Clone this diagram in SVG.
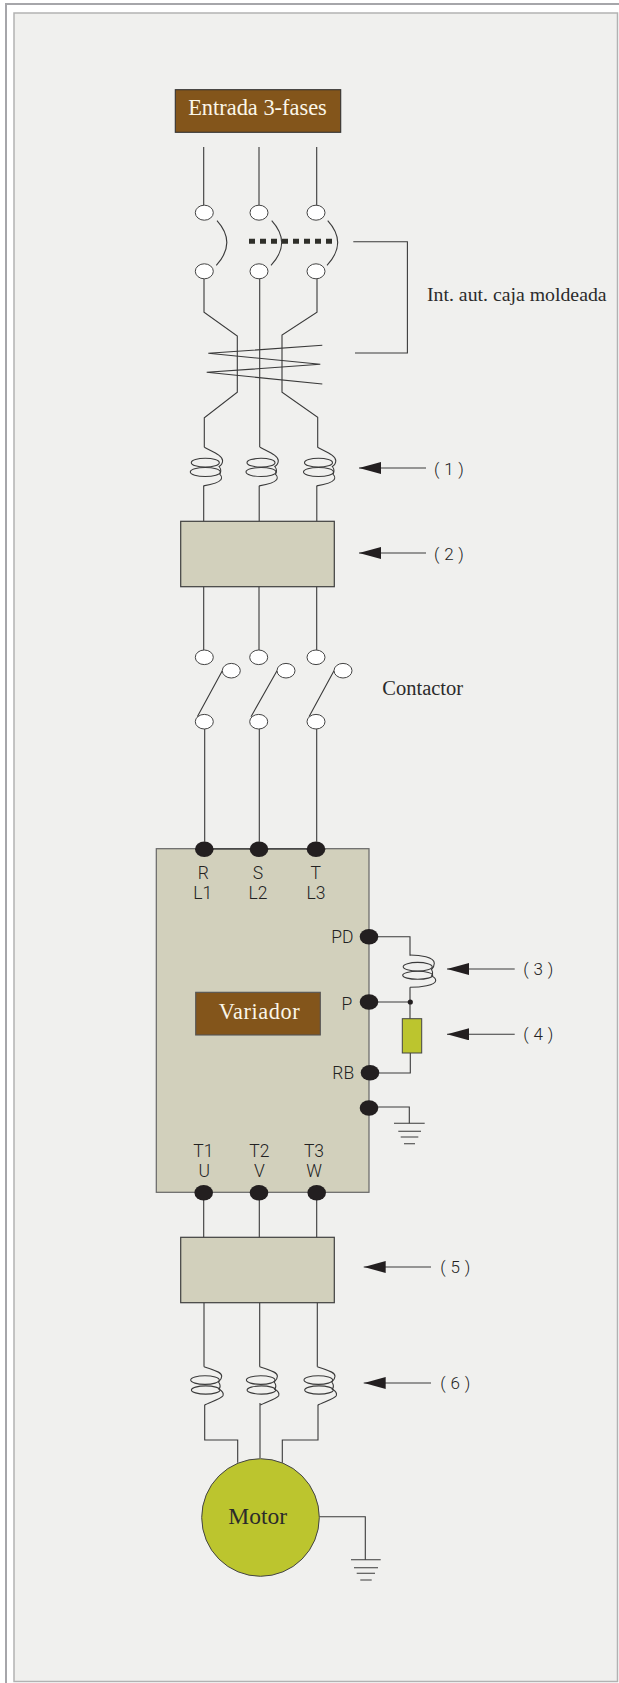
<svg xmlns="http://www.w3.org/2000/svg" xmlns:xlink="http://www.w3.org/1999/xlink" width="619" height="1683" viewBox="0 0 619 1683">
<style>
.w{fill:none;stroke:#3a3a3a;stroke-width:1.1}
.c{fill:#fff;stroke:#444;stroke-width:1}
.d{fill:#231f20;stroke:none}
.box{fill:#d2d0bc;stroke:#3f3f3f;stroke-width:1.2}
.brown{fill:#83551b;stroke:#333;stroke-width:1.1}
.olive{fill:#bcc52e;stroke:#444;stroke-width:1}
.s{font-family:"Liberation Serif",serif;fill:#2b2b2b}
.n{font-family:Roboto,"Liberation Sans",sans-serif;font-size:17.5px;font-weight:300;fill:#222;text-anchor:middle}
.a{font-family:Roboto,"Liberation Sans",sans-serif;font-size:17px;font-weight:300;fill:#222;letter-spacing:.3px}
</style>
<defs>
<marker id="ah" markerUnits="userSpaceOnUse" markerWidth="22" markerHeight="12" viewBox="0 -6 22 12" refX="22" refY="0" orient="auto"><path d="M0,-6L22,0L0,6Z" fill="#231f20"/></marker>
<g id="coilA" class="w">
<path class="w" d="M0,0C8,4.5 18.3,8 18.3,13.5C18.3,16 16.8,18 14.8,19.2C16.8,21.5 16.8,24.5 15.6,27C17.4,28.5 17.6,31 16.5,32.5C14.5,35.5 6,37.5 -0.8,38.6"/>
<ellipse class="w" cx="1" cy="15.4" rx="14" ry="4.4"/>
<ellipse class="w" cx="1" cy="24.7" rx="15" ry="4.5"/>
</g>
<g id="coilB" class="w">
<path class="w" d="M0,0C8,3 17.7,5 17.7,9.5C17.7,12 16,14 14.5,15.3C16.5,18 16.5,20.5 15,22.5C18,24 19.8,26.5 19,29C17,32 6,35.5 0.5,38.4"/>
<ellipse class="w" cx="1" cy="13.4" rx="14.3" ry="4.3"/>
<ellipse class="w" cx="1.7" cy="23.3" rx="14.3" ry="4.1"/>
</g>
</defs>
<rect id="page" x="0" y="0" width="619" height="1683" fill="#fff"/>
<path d="M619,4H6V1683" fill="none" stroke="#a6a6aa" stroke-width="2"/>
<rect id="panel" x="14" y="13" width="603.5" height="1668.5" fill="#f0f0ee" stroke="#b2b2b2" stroke-width="1.5"/>

<g id="connectors">
<path class="w" d="M203.7,147V205M259,147V205M316.7,147V205"/>
<path class="w" d="M217,220.7Q237,243 216.3,265.3M271.7,220.7Q292,243 271,265.3M327.7,220.7Q348,243 327,265.3"/>
<path d="M249,241.3H332" fill="none" stroke="#2f2f2a" stroke-width="5" stroke-dasharray="6 5"/>
<path class="w" d="M204,279V312.3L237.3,336V392.3L204.3,417.7V447.3"/>
<path class="w" d="M259.7,279V447.3"/>
<path class="w" d="M317,279V312.3L282,335V392.3L317.7,417.3V447.3"/>
<path class="w" d="M353.3,241.7H407.4V353H355"/>
<path class="w" d="M322.3,345.3L208.3,353.3L320.3,364.3L206.7,372.3L322.3,384"/>
<use xlink:href="#coilA" href="#coilA" x="204.3" y="447.3"/>
<use xlink:href="#coilA" href="#coilA" x="260" y="447.3"/>
<use xlink:href="#coilA" href="#coilA" x="317.5" y="447.3"/>
<path class="w" d="M203.7,485.7V521.3M259.2,485.7V521.3M316.8,485.7V521.3"/>
<path class="w" d="M203.7,586.7V650M259,586.7V650M316.7,586.7V650"/>
<path class="w" d="M197.3,716.7L222.3,670.7M251,716.7L277,670.7M309,716.7L334,670.7"/>
<path class="w" d="M204.7,729V841.7M259.3,729V841.7M316.7,729V841.7"/>
<path class="w" d="M369,936.7H410V955.7"/>
<path class="w" d="M410,987.3V1018.7M369,1002H410.3"/>
<path class="w" d="M410.3,1053V1073H370"/>
<path class="w" d="M369,1107H409.3V1123.3"/>
<path class="w" d="M394,1123.3H424.7M398.3,1131.3H421M400.7,1137H418.3M404,1143.7H415"/>
<path class="w" d="M203.7,1192V1237.3M259.3,1192V1237.3M316.7,1192V1237.3"/>
<path class="w" d="M204,1302.7V1366.7M259.7,1302.7V1366.7M317.3,1302.7V1366.7"/>
<use xlink:href="#coilB" href="#coilB" x="204" y="1366.7"/>
<use xlink:href="#coilB" href="#coilB" x="259.7" y="1366.7"/>
<use xlink:href="#coilB" href="#coilB" x="317.3" y="1366.7"/>
<path class="w" d="M204.7,1405V1440H237.7V1462.7"/>
<path class="w" d="M260,1403V1458"/>
<path class="w" d="M318,1405V1440H282.3V1462.7"/>
<path class="w" d="M319.3,1516.7H365.3V1559.7"/>
<path class="w" d="M351,1559.7H380.7M354,1567.7H378M356.7,1573.3H375M360.3,1580H371.7"/>
<path class="w" d="M426,468H359" marker-end="url(#ah)"/>
<path class="w" d="M426,553H359" marker-end="url(#ah)"/>
<path class="w" d="M514.7,969H447" marker-end="url(#ah)"/>
<path class="w" d="M514.7,1034.3H447" marker-end="url(#ah)"/>
<path class="w" d="M431,1267H363.7" marker-end="url(#ah)"/>
<path class="w" d="M431,1383H363.7" marker-end="url(#ah)"/>
</g>

<g id="entrada"><rect class="brown" x="175.3" y="89.7" width="165.4" height="42.6"/><text class="s" x="257.5" y="115" font-size="22.4" text-anchor="middle" style="fill:#fbf6e8">Entrada 3-fases</text></g>

<g id="breaker">
<ellipse class="c" cx="204.3" cy="212.7" rx="9" ry="7.5"/><ellipse class="c" cx="259" cy="212.7" rx="9" ry="7.5"/><ellipse class="c" cx="316" cy="212.7" rx="9" ry="7.5"/>
<ellipse class="c" cx="204.3" cy="271.3" rx="9" ry="7.5"/><ellipse class="c" cx="259" cy="271.3" rx="9" ry="7.5"/><ellipse class="c" cx="316" cy="271.3" rx="9" ry="7.5"/>
<text class="s" x="427" y="300.7" font-size="19.8">Int. aut. caja moldeada</text>
</g>

<g id="box2"><rect class="box" x="180.7" y="521.3" width="153.6" height="65.4"/></g>

<g id="contactor">
<ellipse class="c" cx="204.3" cy="657.3" rx="9" ry="7.3"/><ellipse class="c" cx="258.7" cy="657.3" rx="9" ry="7.3"/><ellipse class="c" cx="316" cy="657.3" rx="9" ry="7.3"/>
<ellipse class="c" cx="231.3" cy="670.7" rx="9" ry="7.3"/><ellipse class="c" cx="286" cy="670.7" rx="9" ry="7.3"/><ellipse class="c" cx="343" cy="670.7" rx="9" ry="7.3"/>
<ellipse class="c" cx="204.3" cy="721.7" rx="9" ry="7.3"/><ellipse class="c" cx="258.7" cy="721.7" rx="9" ry="7.3"/><ellipse class="c" cx="316" cy="721.7" rx="9" ry="7.3"/>
<text class="s" x="382.3" y="695" font-size="20.5">Contactor</text>
</g>

<g id="variador">
<rect x="156.3" y="848.7" width="212.7" height="343.6" fill="#d2d0bc" stroke="#666" stroke-width="1.2"/>
<path d="M204,849H316" stroke="#222" stroke-width="1.1" fill="none"/>
<ellipse class="d" cx="204.3" cy="849.3" rx="9.3" ry="7.7"/><ellipse class="d" cx="259" cy="849.3" rx="9.3" ry="7.7"/><ellipse class="d" cx="316" cy="849.3" rx="9.3" ry="7.7"/>
<text class="n" x="203.3" y="879.3">R</text><text class="n" x="258" y="879.3">S</text><text class="n" x="315.7" y="879.3">T</text>
<text class="n" x="202.7" y="899">L1</text><text class="n" x="258" y="899">L2</text><text class="n" x="316" y="899">L3</text>
<text class="n" x="342.3" y="942.7">PD</text><text class="n" x="347" y="1010">P</text><text class="n" x="343.3" y="1078.7">RB</text>
<ellipse class="d" cx="369" cy="936.7" rx="9.3" ry="7.7"/><ellipse class="d" cx="369" cy="1002" rx="9.3" ry="7.7"/><ellipse class="d" cx="370" cy="1072.7" rx="9.3" ry="7.7"/><ellipse class="d" cx="369" cy="1108" rx="9.3" ry="7.7"/>
<rect class="brown" x="195.7" y="992.3" width="124.6" height="42.7" style="stroke:#555"/>
<text class="s" x="259.5" y="1019" font-size="22.3" text-anchor="middle" letter-spacing=".6" style="fill:#fbf6e8">Variador</text>
<text class="n" x="203.3" y="1156.7">T1</text><text class="n" x="259.3" y="1156.7">T2</text><text class="n" x="314" y="1156.7">T3</text>
<text class="n" x="204.3" y="1176.7">U</text><text class="n" x="259.3" y="1176.7">V</text><text class="n" x="314" y="1176.7">W</text>
<ellipse class="d" cx="203.7" cy="1192.7" rx="9.3" ry="7.7"/><ellipse class="d" cx="259" cy="1192.7" rx="9.3" ry="7.7"/><ellipse class="d" cx="316.7" cy="1192.7" rx="9.3" ry="7.7"/>
</g>

<g id="reactor3"><path class="w" d="M410,955C420,955 434.3,957 434.3,963.3C434.3,966 433,968 431.5,969.5C433,972 433,974 431.5,976C434,977 435.7,978.5 435.7,980.5C435.7,985.5 420,987.3 410,987.3"/><ellipse class="w" cx="417.7" cy="966.7" rx="14.5" ry="4.3"/><ellipse class="w" cx="417.7" cy="975.3" rx="15" ry="4"/></g>
<g id="junction"><circle class="d" cx="410.3" cy="1002" r="2.6"/></g>
<g id="resistor4"><rect class="olive" x="402.3" y="1018.7" width="19.4" height="34.3"/></g>
<g id="box5"><rect class="box" x="180.7" y="1237.3" width="153.6" height="65.4"/></g>
<g id="motor"><circle class="olive" cx="260.5" cy="1517.5" r="58.8"/><text class="s" x="257.7" y="1524" font-size="23.5" text-anchor="middle">Motor</text></g>

<g id="labels">
<text class="a" x="434" y="475">( 1 )</text>
<text class="a" x="434" y="560">( 2 )</text>
<text class="a" x="523.3" y="975">( 3 )</text>
<text class="a" x="523.3" y="1040">( 4 )</text>
<text class="a" x="440.3" y="1272.6">( 5 )</text>
<text class="a" x="440.3" y="1388.6">( 6 )</text>
</g>
</svg>
